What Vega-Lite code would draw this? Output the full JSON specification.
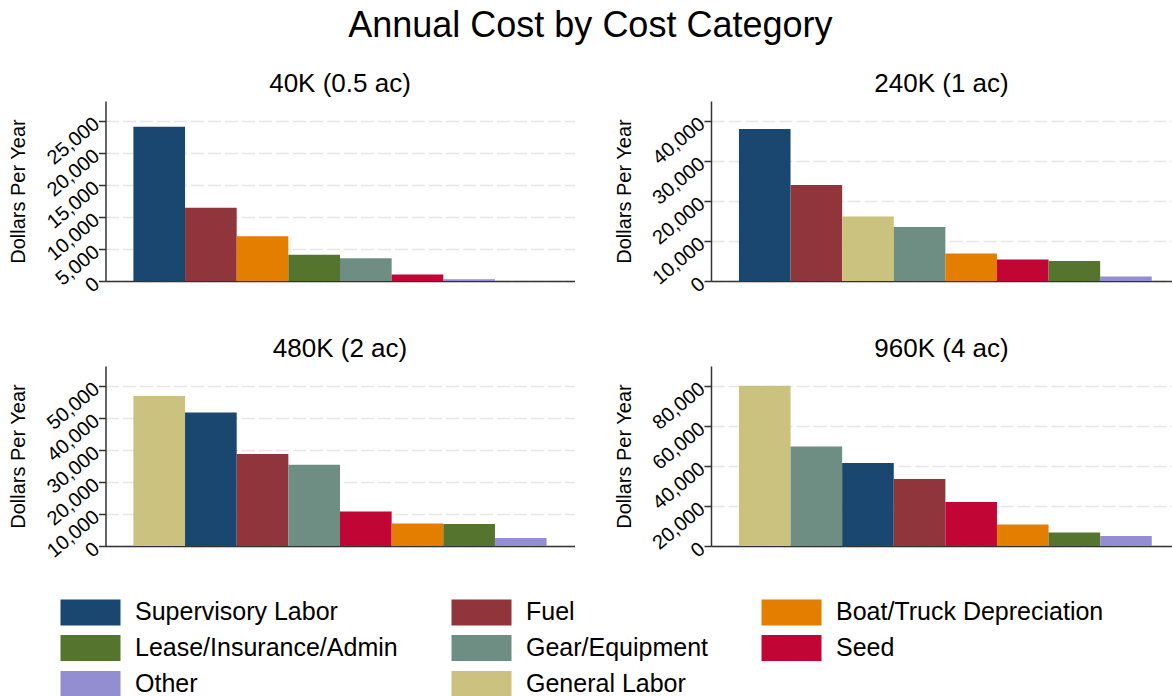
{
  "$schema": "https://vega.github.io/schema/vega-lite/v6.json",
  "background": "white",
  "padding": {"left": 8.5, "top": 8, "right": 0, "bottom": 0},
  "title": {"text": "Annual Cost by Cost Category", "fontSize": 36, "font": "Liberation Sans", "fontWeight": "normal", "color": "#000", "anchor": "middle", "baseline": "alphabetic", "offset": -2},
  "data": {"values": [
    {"farm": "40K (0.5 ac)", "category": "Supervisory Labor", "cost": 24100},
    {"farm": "40K (0.5 ac)", "category": "Fuel", "cost": 11450},
    {"farm": "40K (0.5 ac)", "category": "Boat/Truck Depreciation", "cost": 7000},
    {"farm": "40K (0.5 ac)", "category": "Lease/Insurance/Admin", "cost": 4100},
    {"farm": "40K (0.5 ac)", "category": "Gear/Equipment", "cost": 3550},
    {"farm": "40K (0.5 ac)", "category": "Seed", "cost": 1000},
    {"farm": "40K (0.5 ac)", "category": "Other", "cost": 270},
    {"farm": "40K (0.5 ac)", "category": "General Labor", "cost": 0},
    {"farm": "240K (1 ac)", "category": "Supervisory Labor", "cost": 38000},
    {"farm": "240K (1 ac)", "category": "Fuel", "cost": 24000},
    {"farm": "240K (1 ac)", "category": "General Labor", "cost": 16100},
    {"farm": "240K (1 ac)", "category": "Gear/Equipment", "cost": 13500},
    {"farm": "240K (1 ac)", "category": "Boat/Truck Depreciation", "cost": 6900},
    {"farm": "240K (1 ac)", "category": "Seed", "cost": 5400},
    {"farm": "240K (1 ac)", "category": "Lease/Insurance/Admin", "cost": 5000},
    {"farm": "240K (1 ac)", "category": "Other", "cost": 1150},
    {"farm": "480K (2 ac)", "category": "General Labor", "cost": 46900},
    {"farm": "480K (2 ac)", "category": "Supervisory Labor", "cost": 41700},
    {"farm": "480K (2 ac)", "category": "Fuel", "cost": 28750},
    {"farm": "480K (2 ac)", "category": "Gear/Equipment", "cost": 25400},
    {"farm": "480K (2 ac)", "category": "Seed", "cost": 10800},
    {"farm": "480K (2 ac)", "category": "Boat/Truck Depreciation", "cost": 7050},
    {"farm": "480K (2 ac)", "category": "Lease/Insurance/Admin", "cost": 6900},
    {"farm": "480K (2 ac)", "category": "Other", "cost": 2500},
    {"farm": "960K (4 ac)", "category": "General Labor", "cost": 80100},
    {"farm": "960K (4 ac)", "category": "Gear/Equipment", "cost": 49700},
    {"farm": "960K (4 ac)", "category": "Supervisory Labor", "cost": 41500},
    {"farm": "960K (4 ac)", "category": "Fuel", "cost": 33500},
    {"farm": "960K (4 ac)", "category": "Seed", "cost": 22000},
    {"farm": "960K (4 ac)", "category": "Boat/Truck Depreciation", "cost": 10800},
    {"farm": "960K (4 ac)", "category": "Lease/Insurance/Admin", "cost": 6700},
    {"farm": "960K (4 ac)", "category": "Other", "cost": 5000}
  ]},
  "columns": 2,
  "spacing": {"row": 40, "column": 39.5},
  "concat": [
    {
      "title": {"text": "40K (0.5 ac)"},
      "width": 469, "height": 180,
      "transform": [{"filter": "datum.farm === '40K (0.5 ac)'"}],
      "mark": {"type": "bar"},
      "encoding": {
        "x": {"field": "category", "type": "nominal", "sort": "-y", "scale": {"paddingInner": 0, "paddingOuter": 0.54}},
        "y": {"field": "cost", "type": "quantitative", "scale": {"domain": [0, 28125], "nice": false}, "axis": {"values": [0, 5000, 10000, 15000, 20000, 25000], "format": ",d", "title": "Dollars Per Year"}},
        "color": {"field": "category", "type": "nominal", "scale": {"domain": ["Supervisory Labor", "Fuel", "Boat/Truck Depreciation", "Lease/Insurance/Admin", "Gear/Equipment", "Seed", "Other", "General Labor"], "range": ["#1a476f", "#90353b", "#e37e00", "#55752f", "#6e8e84", "#c10534", "#938dd2", "#cac27e"]}}
      }
    },
    {
      "title": {"text": "240K (1 ac)"},
      "width": 461, "height": 180,
      "transform": [{"filter": "datum.farm === '240K (1 ac)'"}],
      "mark": {"type": "bar"},
      "encoding": {
        "x": {"field": "category", "type": "nominal", "sort": "-y", "scale": {"paddingInner": 0, "paddingOuter": 0.467, "align": 0.58}},
        "y": {"field": "cost", "type": "quantitative", "scale": {"domain": [0, 45000], "nice": false}, "axis": {"values": [0, 10000, 20000, 30000, 40000], "format": ",d", "title": "Dollars Per Year"}},
        "color": {"field": "category", "type": "nominal"}
      }
    },
    {
      "title": {"text": "480K (2 ac)"},
      "width": 469, "height": 180,
      "transform": [{"filter": "datum.farm === '480K (2 ac)'"}],
      "mark": {"type": "bar"},
      "encoding": {
        "x": {"field": "category", "type": "nominal", "sort": "-y", "scale": {"paddingInner": 0, "paddingOuter": 0.54}},
        "y": {"field": "cost", "type": "quantitative", "scale": {"domain": [0, 56250], "nice": false}, "axis": {"values": [0, 10000, 20000, 30000, 40000, 50000], "format": ",d", "title": "Dollars Per Year"}},
        "color": {"field": "category", "type": "nominal"}
      }
    },
    {
      "title": {"text": "960K (4 ac)"},
      "width": 461, "height": 180,
      "transform": [{"filter": "datum.farm === '960K (4 ac)'"}],
      "mark": {"type": "bar"},
      "encoding": {
        "x": {"field": "category", "type": "nominal", "sort": "-y", "scale": {"paddingInner": 0, "paddingOuter": 0.467, "align": 0.58}},
        "y": {"field": "cost", "type": "quantitative", "scale": {"domain": [0, 90000], "nice": false}, "axis": {"values": [0, 20000, 40000, 60000, 80000], "format": ",d", "title": "Dollars Per Year"}},
        "color": {"field": "category", "type": "nominal"}
      }
    }
  ],
  "resolve": {"scale": {"color": "shared"}},
  "config": {
    "font": "Liberation Sans",
    "view": {"stroke": null},
    "title": {"fontSize": 26, "fontWeight": "normal", "color": "#000", "offset": 4, "baseline": "alphabetic"},
    "axisY": {"domainColor": "#333", "domainWidth": 1.5, "tickColor": "#333", "tickSize": 7, "tickWidth": 1.5, "labelAngle": -40, "labelAlign": "right", "labelBaseline": "middle", "labelFontSize": 20, "labelColor": "#000", "labelPadding": 2, "labelFlush": false, "labelOverlap": false, "gridColor": "#e6e6e6", "gridDash": [13, 4], "gridWidth": 1.5, "titleFontSize": 20, "titleFontWeight": "normal", "titleColor": "#000", "titlePadding": 14.5},
    "axisX": {"labels": false, "ticks": false, "title": null, "domainColor": "#333", "domainWidth": 1.5, "grid": false},
    "legend": {"orient": "none", "direction": "horizontal", "legendX": -45, "legendY": 496, "columns": 3, "title": null, "symbolType": "M-1,-0.87H3V0.87H-1Z", "symbolSize": 900, "symbolStrokeWidth": 0, "symbolOpacity": 1, "labelFontSize": 25, "labelOffset": 44.5, "labelColor": "#000", "labelLimit": 400, "columnPadding": 53, "rowPadding": 7, "padding": 0, "gridAlign": "each"}
  }
}
